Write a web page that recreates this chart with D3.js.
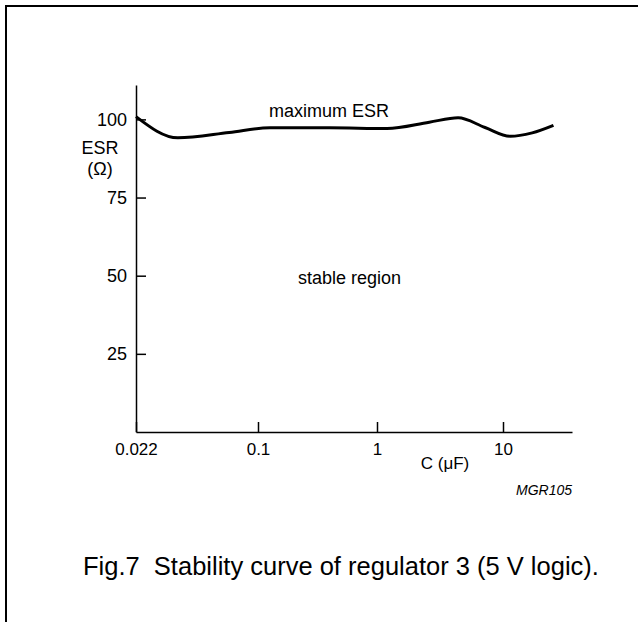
<!DOCTYPE html>
<meta charset="utf-8">
<style>
body { margin: 0; background: #fff; }
svg { font-family: "Liberation Sans", Arial, sans-serif; }
.axis path, .axis line { stroke: #000; stroke-width: 1.5; }
.axis text { font-size: 17px; fill: #000; }
.curve { fill: none; stroke: #000; stroke-width: 3; }
</style>
<svg width="638" height="622"></svg>
<script src="https://d3js.org/d3.v7.min.js"></script>
<script>

// capacitance (uF) and maximum ESR (ohm)
var capacitance = [0.022, 0.037, 0.07, 0.126, 0.4, 1.2, 2.6, 4.4, 7.2, 11.4, 17, 25];
var esrMax      = [100.9, 94.1, 95.8, 97.3, 97.3, 97.1, 99.1, 100.5, 97.4, 94.6, 95.7, 98.1];

var xTicks = [0.022, 0.1, 1, 10];
var yTicks = [25, 50, 75, 100];

var svg = d3.select("svg");

// frame round the figure
svg.append("rect")
    .attr("x", 6).attr("y", 6)
    .attr("width", 700).attr("height", 700)
    .attr("fill", "none")
    .attr("stroke", "#000")
    .attr("stroke-width", 2);

// the drawing is not a true log scale, so piecewise between the labelled decades
var x = d3.scaleLog()
    .domain([0.022, 0.1, 1, 10, 35])
    .range([136, 258, 377, 503, 572]);

var y = d3.scaleLinear()
    .domain([0, 111])
    .range([432, 85]);

svg.append("g")
    .attr("class", "axis")
    .attr("transform", "translate(0," + y(0) + ")")
    .call(d3.axisBottom(x)
      .tickValues(xTicks)
      .tickFormat(function(d) { return d; })
      .tickSizeInner(-10)
      .tickSizeOuter(0)
      .tickPadding(11));

svg.append("g")
    .attr("class", "axis")
    .attr("transform", "translate(" + x(0.022) + ",0)")
    .call(d3.axisLeft(y)
      .tickValues(yTicks)
      .tickSizeInner(-10)
      .tickSizeOuter(0)
      .tickPadding(9))
    .selectAll("text").style("font-size", "18px");

var line = d3.line()
    .x(function(d, i) { return x(capacitance[i]); })
    .y(function(d) { return y(d); })
    .curve(d3.curveMonotoneX);

svg.append("path")
    .attr("class", "curve")
    .attr("d", line(esrMax));

// labels
svg.append("text").attr("x", 100).attr("y", 154)
    .attr("text-anchor", "middle").style("font-size", "18px").text("ESR");
svg.append("text").attr("x", 100).attr("y", 175)
    .attr("text-anchor", "middle").style("font-size", "18px").text("(\u03A9)");

svg.append("text").attr("x", 445).attr("y", 469)
    .attr("text-anchor", "middle").style("font-size", "17px").text("C (\u03BCF)");

svg.append("text").attr("x", 269).attr("y", 117)
    .style("font-size", "18px").text("maximum ESR");

svg.append("text").attr("x", 298).attr("y", 284)
    .style("font-size", "18px").text("stable region");

svg.append("text").attr("x", 572).attr("y", 495)
    .attr("text-anchor", "end")
    .style("font-size", "14px").style("font-style", "italic")
    .text("MGR105");

svg.append("text").attr("x", 83).attr("y", 575)
    .style("font-size", "25.5px")
    .style("white-space", "pre")
    .text("Fig.7  Stability curve of regulator 3 (5 V logic).");

</script>
